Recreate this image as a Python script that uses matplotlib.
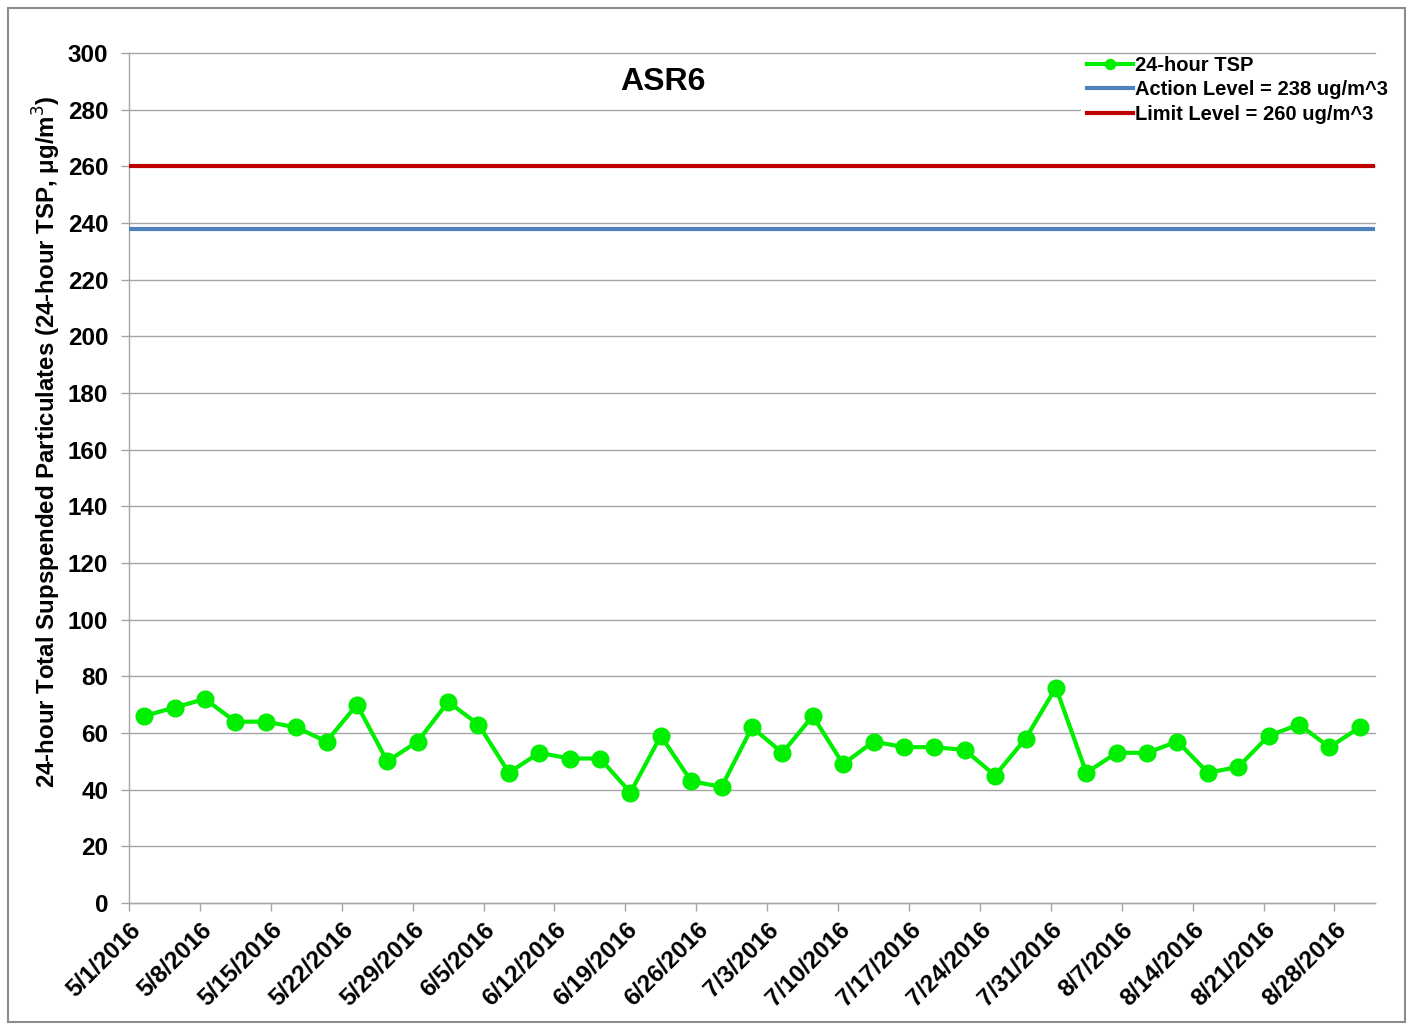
import matplotlib
matplotlib.use("Agg")
import matplotlib.pyplot as plt
import matplotlib.dates as mdates
from matplotlib.patches import Rectangle
import datetime as dt

plt.rcParams['font.family'] = ['Liberation Sans', 'DejaVu Sans']

# ---- data ----
start_date = "2016-05-02"
step_days = 3
tsp_values = [66, 69, 72, 64, 64, 62, 57, 70, 50, 57, 71, 63, 46, 53, 51, 51, 39, 59,
              43, 41, 62, 53, 66, 49, 57, 55, 55, 54, 45, 58, 76, 46, 53, 53, 57, 46,
              48, 59, 63, 55, 62]
action_level = 238
limit_level = 260
tick_dates = ["2016-05-01", "2016-05-08", "2016-05-15", "2016-05-22", "2016-05-29",
              "2016-06-05", "2016-06-12", "2016-06-19", "2016-06-26", "2016-07-03",
              "2016-07-10", "2016-07-17", "2016-07-24", "2016-07-31", "2016-08-07",
              "2016-08-14", "2016-08-21", "2016-08-28"]
x_start = "2016-05-01"
x_end = "2016-09-01"
y_ticks = list(range(0, 301, 20))

# ---- build ----
d0 = dt.datetime.strptime(start_date, "%Y-%m-%d")
dates = [d0 + dt.timedelta(days=step_days * i, hours=12) for i in range(len(tsp_values))]
xs = mdates.date2num(dates)
xmin = mdates.date2num(dt.datetime.strptime(x_start, "%Y-%m-%d"))
xmax = mdates.date2num(dt.datetime.strptime(x_end, "%Y-%m-%d"))
tick_pos = [mdates.date2num(dt.datetime.strptime(t, "%Y-%m-%d")) for t in tick_dates]
tick_lbl = [f"{d.month}/{d.day}/{d.year}" for d in
            (dt.datetime.strptime(t, "%Y-%m-%d") for t in tick_dates)]

fig = plt.figure(figsize=(14.09, 10.27), dpi=100)
fig.patches.append(Rectangle((8/1409, 5/1027), 1397/1409, 1014/1027, transform=fig.transFigure,
                             fill=False, edgecolor='#8c8c8c', linewidth=1.5))
ax = fig.add_axes([129/1409, 1 - 903/1027, (1375 - 129)/1409, (903 - 53)/1027])

grid_c = '#a6a6a6'
for y in y_ticks:
    ax.axhline(y, color=grid_c, linewidth=1.0, zorder=(6 if y == y_ticks[-1] else 1),
               clip_on=False)

ax.plot(xs, tsp_values, color='#00ee00', linewidth=3, marker='o', markersize=12,
        label='24-hour TSP', zorder=4)
ax.plot([xmin, xmax], [action_level, action_level], color='#4f81bd', linewidth=3,
        label='Action Level = 238 ug/m^3', zorder=3)
ax.plot([xmin, xmax], [limit_level, limit_level], color='#c00000', linewidth=3,
        label='Limit Level = 260 ug/m^3', zorder=3)

ax.set_xlim(xmin, xmax)
ax.set_ylim(0, 300)
ax.set_yticks(y_ticks)
ax.set_xticks(tick_pos)
ax.set_xticklabels(tick_lbl, rotation=45, ha='right', rotation_mode='anchor')
for s in ['top', 'right']:
    ax.spines[s].set_visible(False)
for s in ['left', 'bottom']:
    ax.spines[s].set_color(grid_c)
    ax.spines[s].set_linewidth(1.0)
ax.tick_params(axis='both', colors=grid_c, labelcolor='black', length=6, width=1.0,
               labelsize=17.5)
ax.tick_params(axis='y', pad=9)
ax.tick_params(axis='x', pad=5)
for lab in ax.get_xticklabels() + ax.get_yticklabels():
    lab.set_fontweight('bold')

ax.set_ylabel('24-hour Total Supspended Particulates (24-hour TSP, μg/m$^{3}$)',
              fontsize=17.3, fontweight='bold')
ax.yaxis.set_label_coords((63 - 129)/1246, (903 - 442)/850)
ax.text(0.4286, 0.966, 'ASR6', transform=ax.transAxes, fontsize=23, fontweight='bold',
        ha='center', va='center')

leg = ax.legend(loc='upper left', bbox_to_anchor=((1071 - 129)/1246, 1 + 13/850),
                frameon=True, framealpha=1, facecolor='white', edgecolor='none',
                fancybox=False, fontsize=14.5, handlelength=2.3, handletextpad=0.1,
                labelspacing=0.26, borderpad=0.3, markerscale=0.6)
for t in leg.get_texts():
    t.set_fontweight('bold')
leg.set_zorder(5)

fig.savefig('out.png', dpi=100)
